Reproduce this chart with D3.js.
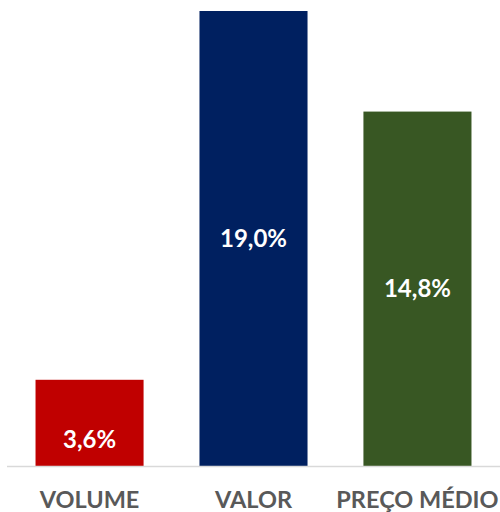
<!DOCTYPE html>
<html>
<head>
<meta charset="utf-8">
<script src="https://cdn.jsdelivr.net/npm/d3@7"></script>
<style>
  body { margin: 0; background: #fff; }
  svg { display: block; }
</style>
</head>
<body>
<svg width="500" height="512"></svg>
<script>
// chart data
var categories = ["VOLUME", "VALOR", "PREÇO MÉDIO"];
var values = [3.6, 19.0, 14.8];
var colors = ["#c00000", "#002060", "#385723"];

var svg = d3.select("svg"),
    width = 500,
    height = 512,
    baseY = 466;

var x = d3.scaleBand()
    .domain(categories)
    .range([7, 500])
    .paddingInner(0.341)
    .paddingOuter(0.174);

var y = d3.scaleLinear()
    .domain([0, 19])
    .range([baseY, 11]);

var fmt = function(v) { return d3.format(".1f")(v).replace(".", ",") + "%"; };

// bars
svg.selectAll(".bar")
    .data(values)
    .enter().append("rect")
    .attr("class", "bar")
    .attr("x", function(d, i) { return x(categories[i]); })
    .attr("y", function(d) { return y(d); })
    .attr("width", x.bandwidth())
    .attr("height", function(d) { return baseY - y(d); })
    .attr("fill", function(d, i) { return colors[i]; });

// baseline
svg.append("line")
    .attr("x1", 7).attr("x2", 500)
    .attr("y1", baseY + 0.5).attr("y2", baseY + 0.5)
    .attr("stroke", "#d9d9d9")
    .attr("stroke-width", 1.5);

// value labels (small bars get the label near the base)
svg.selectAll(".val")
    .data(values)
    .enter().append("text")
    .attr("class", "val")
    .attr("x", function(d, i) { return x(categories[i]) + x.bandwidth() / 2; })
    .attr("y", function(d) {
        var h = baseY - y(d);
        return h < 100 ? baseY - 27 : (y(d) + baseY) / 2;
    })
    .attr("dy", "0.36em")
    .attr("text-anchor", "middle")
    .attr("fill", "#fff")
    .style("font-family", "Lato, 'Open Sans', sans-serif")
    .style("font-weight", "bold")
    .style("font-size", "24px")
    .text(fmt);

// category labels
svg.selectAll(".cat")
    .data(categories)
    .enter().append("text")
    .attr("class", "cat")
    .attr("x", function(d) { return x(d) + x.bandwidth() / 2; })
    .attr("y", 500)
    .attr("dy", "0.36em")
    .attr("text-anchor", "middle")
    .attr("fill", "#595959")
    .style("font-family", "Lato, 'Open Sans', sans-serif")
    .style("font-weight", "bold")
    .style("font-size", "23.5px")
    .text(function(d) { return d; });
</script>
</body>
</html>
